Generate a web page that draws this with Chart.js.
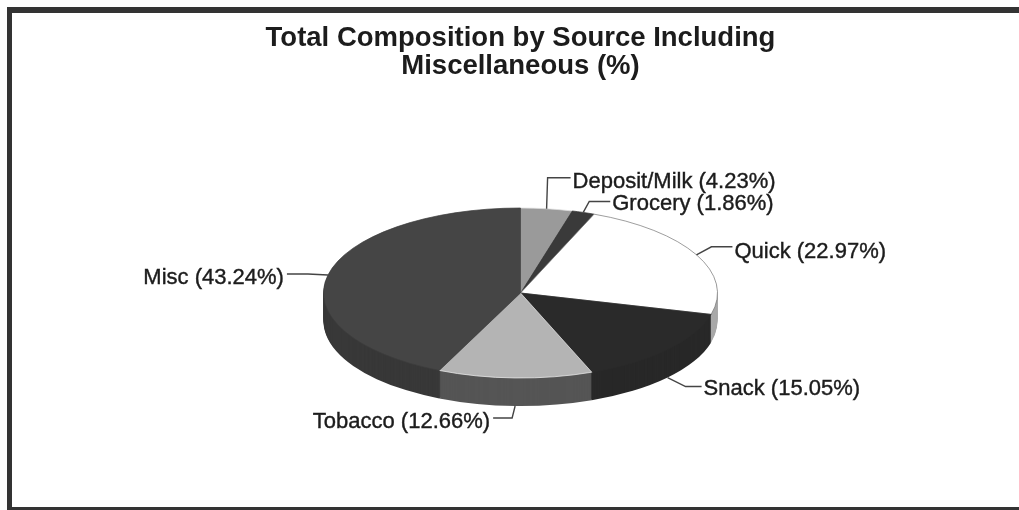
<!DOCTYPE html>
<html>
<head>
<meta charset="utf-8">
<title>Total Composition by Source</title>
<script src="https://cdn.jsdelivr.net/npm/chart.js@4/dist/chart.umd.min.js"></script>
<style>
    html, body { margin: 0; padding: 0; background: #fff; overflow: hidden; }
    #wrap { position: absolute; left: 0; top: 0; width: 1019px; height: 510px; filter: blur(0.4px); }
    #frame {
        position: absolute; left: 7px; top: 7px; width: 1012px; height: 503px;
        box-sizing: border-box; border: solid #333; border-width: 6px 0 3px 5px;
    }
</style>
</head>
<body>
<div id="wrap">
    <canvas id="pieChart" width="1019" height="510"></canvas>
    <div id="frame"></div>
</div>
<script>
const titleLines = ["Total Composition by Source Including", "Miscellaneous (%)"];
const categories = ["Deposit/Milk", "Grocery", "Quick", "Snack", "Tobacco", "Misc"];
const shares = [4.23, 1.86, 22.97, 15.05, 12.66, 43.24];

const topColors = ["#9a9a9a", "#3a3a3a", "#ffffff", "#2a2a2a", "#b4b4b4", "#454545"];
const sideColors = ["#6a6a6a", "#2a2a2a", "#a8a8a8", "#282828", "#555555", "#383838"];
const edgeColors = ["#dddddd", "#333333", "#777777", "#2a2a2a", "#eeeeee", "#3c3c3c"];

// leader elbow and end, relative to the point on the pie edge
const leaders = [
    { side: false, elbow: [1, -31], end: [24, -31], textDy: 4 },
    { side: false, elbow: [6, -11], end: [27, -11], textDy: 3 },
    { side: false, elbow: [15, -8], end: [36, -8], textDy: 5 },
    { side: true, elbow: [18, 9], end: [34, 9], textDy: 2 },
    { side: true, elbow: [-3, 12], end: [-22, 12], textDy: 4 },
    { side: false, elbow: [-20, -1], end: [-41, -1], textDy: 4 }
];

const squash = 85 / 197;
const depth = 28;
const centerY = 293;

function squeeze(ctx, arc, drop) {
    ctx.translate(arc.x, centerY + drop);
    ctx.scale(1, squash);
    ctx.translate(-arc.x, -arc.y);
}

const pie3d = {
    id: "pie3d",
    beforeDatasetsDraw(chart) {
        const ctx = chart.ctx;
        const arcs = chart.getDatasetMeta(0).data;
        // side wall, stacked from the bottom up
        for (let d = depth; d > 0; d--) {
            arcs.forEach((arc, i) => {
                ctx.save();
                squeeze(ctx, arc, d);
                ctx.beginPath();
                ctx.moveTo(arc.x, arc.y);
                ctx.arc(arc.x, arc.y, arc.outerRadius, arc.startAngle, arc.endAngle);
                ctx.closePath();
                ctx.fillStyle = sideColors[i];
                ctx.fill();
                ctx.restore();
            });
        }
        ctx.save();
        squeeze(ctx, arcs[0], 0);
    },
    afterDatasetsDraw(chart) {
        const ctx = chart.ctx;
        ctx.restore();

        const arcs = chart.getDatasetMeta(0).data;
        ctx.font = "22px 'Liberation Sans', Arial, sans-serif";
        ctx.textBaseline = "middle";
        arcs.forEach((arc, i) => {
            const mid = (arc.startAngle + arc.endAngle) / 2;
            const px = arc.x + arc.outerRadius * Math.cos(mid);
            const py = centerY + arc.outerRadius * Math.sin(mid) * squash + (leaders[i].side ? depth : 0);
            const l = leaders[i];

            ctx.beginPath();
            ctx.moveTo(px, py);
            ctx.lineTo(px + l.elbow[0], py + l.elbow[1]);
            ctx.lineTo(px + l.end[0], py + l.end[1]);
            ctx.strokeStyle = "#444";
            ctx.lineWidth = 1.4;
            ctx.stroke();

            ctx.fillStyle = "#1c1c1c";
            ctx.strokeStyle = "#1c1c1c";
            ctx.lineWidth = 0.4;
            ctx.textAlign = l.end[0] < 0 ? "right" : "left";
            const gap = l.end[0] < 0 ? -3 : 2;
            const text = categories[i] + " (" + shares[i].toFixed(2) + "%)";
            ctx.fillText(text, px + l.end[0] + gap, py + l.end[1] + l.textDy);
            ctx.strokeText(text, px + l.end[0] + gap, py + l.end[1] + l.textDy);
        });
    }
};

new Chart(document.getElementById("pieChart").getContext("2d"), {
    type: "pie",
    data: {
        labels: categories,
        datasets: [{
            data: shares,
            backgroundColor: topColors,
            borderColor: edgeColors,
            borderWidth: 1,
            radius: 197
        }]
    },
    options: {
        responsive: false,
        animation: false,
        layout: { padding: { left: 22, top: 24 } },
        plugins: {
            legend: { display: false },
            tooltip: { enabled: false },
            title: {
                display: true,
                text: titleLines,
                color: "#1c1c1c",
                font: { family: "'Liberation Sans', Arial, sans-serif", size: 27.5, weight: "bold", lineHeight: 1.02 },
                padding: 0
            }
        }
    },
    plugins: [pie3d]
});
</script>
</body>
</html>
